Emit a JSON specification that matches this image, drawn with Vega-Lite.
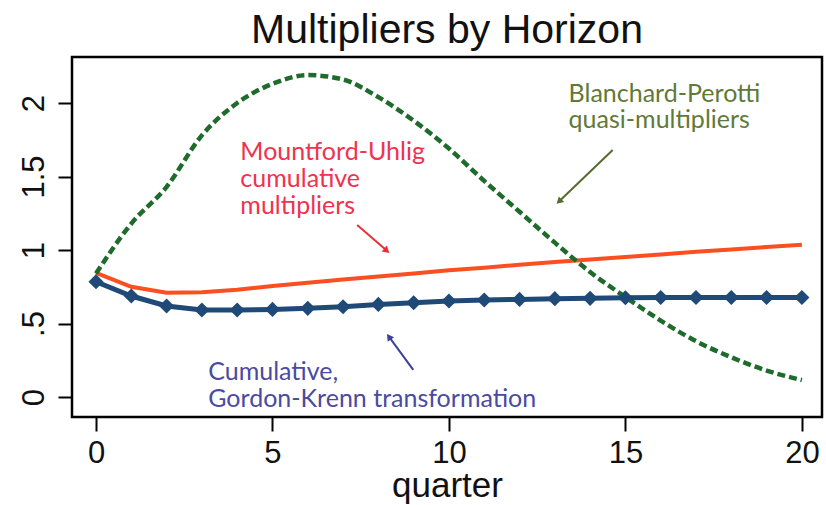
{
  "$schema": "https://vega.github.io/schema/vega-lite/v6.json",
  "width": 750,
  "height": 360,
  "autosize": {"type": "none"},
  "padding": {"left": 72, "top": 57, "right": 4, "bottom": 88},
  "background": "white",
  "config": {
    "view": {"stroke": "black", "strokeWidth": 2.5},
    "font": "Liberation Sans"
  },
  "title": {
    "text": "Multipliers by Horizon",
    "font": "Liberation Sans",
    "fontSize": 41,
    "fontWeight": "normal",
    "color": "#111111",
    "anchor": "middle",
    "offset": 5
  },
  "datasets": {
    "series": [
      {"q": 0, "s": "MU", "v": 0.845}, {"q": 1, "s": "MU", "v": 0.75}, {"q": 2, "s": "MU", "v": 0.71}, {"q": 3, "s": "MU", "v": 0.712}, {"q": 4, "s": "MU", "v": 0.73}, {"q": 5, "s": "MU", "v": 0.755}, {"q": 6, "s": "MU", "v": 0.778}, {"q": 7, "s": "MU", "v": 0.80}, {"q": 8, "s": "MU", "v": 0.82}, {"q": 9, "s": "MU", "v": 0.84}, {"q": 10, "s": "MU", "v": 0.862}, {"q": 11, "s": "MU", "v": 0.88}, {"q": 12, "s": "MU", "v": 0.90}, {"q": 13, "s": "MU", "v": 0.918}, {"q": 14, "s": "MU", "v": 0.935}, {"q": 15, "s": "MU", "v": 0.953}, {"q": 16, "s": "MU", "v": 0.97}, {"q": 17, "s": "MU", "v": 0.988}, {"q": 18, "s": "MU", "v": 1.004}, {"q": 19, "s": "MU", "v": 1.02}, {"q": 20, "s": "MU", "v": 1.035},
      {"q": 0, "s": "BP", "v": 0.84}, {"q": 1, "s": "BP", "v": 1.18}, {"q": 2, "s": "BP", "v": 1.43}, {"q": 3, "s": "BP", "v": 1.78}, {"q": 4, "s": "BP", "v": 2.0}, {"q": 5, "s": "BP", "v": 2.13}, {"q": 6, "s": "BP", "v": 2.19}, {"q": 7, "s": "BP", "v": 2.16}, {"q": 8, "s": "BP", "v": 2.04}, {"q": 9, "s": "BP", "v": 1.88}, {"q": 10, "s": "BP", "v": 1.69}, {"q": 11, "s": "BP", "v": 1.47}, {"q": 12, "s": "BP", "v": 1.26}, {"q": 13, "s": "BP", "v": 1.05}, {"q": 14, "s": "BP", "v": 0.85}, {"q": 15, "s": "BP", "v": 0.68}, {"q": 16, "s": "BP", "v": 0.52}, {"q": 17, "s": "BP", "v": 0.38}, {"q": 18, "s": "BP", "v": 0.27}, {"q": 19, "s": "BP", "v": 0.18}, {"q": 20, "s": "BP", "v": 0.115},
      {"q": 0, "s": "GK", "v": 0.784}, {"q": 1, "s": "GK", "v": 0.687}, {"q": 2, "s": "GK", "v": 0.619}, {"q": 3, "s": "GK", "v": 0.592}, {"q": 4, "s": "GK", "v": 0.592}, {"q": 5, "s": "GK", "v": 0.596}, {"q": 6, "s": "GK", "v": 0.603}, {"q": 7, "s": "GK", "v": 0.614}, {"q": 8, "s": "GK", "v": 0.630}, {"q": 9, "s": "GK", "v": 0.641}, {"q": 10, "s": "GK", "v": 0.653}, {"q": 11, "s": "GK", "v": 0.660}, {"q": 12, "s": "GK", "v": 0.664}, {"q": 13, "s": "GK", "v": 0.669}, {"q": 14, "s": "GK", "v": 0.671}, {"q": 15, "s": "GK", "v": 0.675}, {"q": 16, "s": "GK", "v": 0.677}, {"q": 17, "s": "GK", "v": 0.677}, {"q": 18, "s": "GK", "v": 0.677}, {"q": 19, "s": "GK", "v": 0.677}, {"q": 20, "s": "GK", "v": 0.677}
    ],
    "notes": [
      {"who": "MU", "q": 4.09, "v": 1.612, "label": ["Mountford-Uhlig", "cumulative", "multipliers"]},
      {"who": "BP", "q": 13.39, "v": 2.007, "label": ["Blanchard-Perotti", "quasi-multipliers"]},
      {"who": "GK", "q": 3.18, "v": 0.116, "label": ["Cumulative,", "Gordon-Krenn transformation"]}
    ],
    "arrows": [
      {"who": "MU", "q": 7.40, "v": 1.170, "q2": 8.22, "v2": 1.0},
      {"who": "BP", "q": 14.64, "v": 1.680, "q2": 13.14, "v2": 1.335},
      {"who": "GK", "q": 8.99, "v": 0.184, "q2": 8.33, "v2": 0.40}
    ],
    "heads": [
      {"who": "MU", "q": 8.24, "v": 0.995},
      {"who": "BP", "q": 13.12, "v": 1.33},
      {"who": "GK", "q": 8.30, "v": 0.41}
    ]
  },
  "resolve": {"scale": {"x": "shared", "y": "shared"}},
  "layer": [
    {
      "data": {"name": "series"},
      "transform": [{"filter": "datum.s == 'MU'"}],
      "mark": {"type": "line", "color": "#fb4f22", "strokeWidth": 4},
      "encoding": {
        "x": {
          "field": "q", "type": "quantitative",
          "scale": {"domain": [-0.68, 20.57], "nice": false, "zero": false},
          "axis": {
            "values": [0, 5, 10, 15, 20], "title": "quarter", "grid": false, "domain": false,
            "tickColor": "black", "tickWidth": 2, "tickSize": 14,
            "labelFont": "Liberation Sans", "labelFontSize": 31, "labelColor": "#111111", "labelPadding": 7,
            "titleFont": "Liberation Sans", "titleFontSize": 35, "titleFontWeight": "normal", "titleColor": "#111111", "titlePadding": 0
          }
        },
        "y": {
          "field": "v", "type": "quantitative",
          "scale": {"domain": [-0.136, 2.313], "nice": false, "zero": false},
          "axis": {
            "values": [0, 0.5, 1, 1.5, 2], "title": null, "grid": false, "domain": false,
            "tickColor": "black", "tickWidth": 2, "tickSize": 14, "format": ".1~f",
            "labelFont": "Liberation Sans", "labelFontSize": 31, "labelColor": "#111111",
            "labelAngle": -90, "labelAlign": "center", "labelBaseline": "bottom", "labelPadding": 8,
            "labelExpr": "datum.value == 0.5 ? '.5' : datum.label"
          }
        }
      }
    },
    {
      "data": {"name": "series"},
      "transform": [{"filter": "datum.s == 'BP'"}],
      "mark": {"type": "line", "color": "#1e6b2c", "strokeWidth": 4.5, "strokeDash": [8, 4], "interpolate": "monotone"},
      "encoding": {"x": {"field": "q", "type": "quantitative"}, "y": {"field": "v", "type": "quantitative"}}
    },
    {
      "data": {"name": "series"},
      "transform": [{"filter": "datum.s == 'GK'"}],
      "mark": {"type": "line", "color": "#1f4a78", "strokeWidth": 5},
      "encoding": {"x": {"field": "q", "type": "quantitative"}, "y": {"field": "v", "type": "quantitative"}}
    },
    {
      "data": {"name": "series"},
      "transform": [{"filter": "datum.s == 'GK'"}],
      "mark": {"type": "point", "shape": "diamond", "filled": true, "color": "#1f4a78", "size": 230, "opacity": 1},
      "encoding": {"x": {"field": "q", "type": "quantitative"}, "y": {"field": "v", "type": "quantitative"}}
    },
    {
      "data": {"name": "notes"},
      "transform": [{"filter": "datum.who == 'MU'"}],
      "mark": {"type": "text", "font": "Lato", "fontSize": 25, "color": "#f0324e", "align": "left", "baseline": "alphabetic", "lineHeight": 27},
      "encoding": {"x": {"field": "q", "type": "quantitative"}, "y": {"field": "v", "type": "quantitative"}, "text": {"field": "label"}}
    },
    {
      "data": {"name": "notes"},
      "transform": [{"filter": "datum.who == 'BP'"}],
      "mark": {"type": "text", "font": "Lato", "fontSize": 25, "color": "#5f7a38", "align": "left", "baseline": "alphabetic", "lineHeight": 26},
      "encoding": {"x": {"field": "q", "type": "quantitative"}, "y": {"field": "v", "type": "quantitative"}, "text": {"field": "label"}}
    },
    {
      "data": {"name": "notes"},
      "transform": [{"filter": "datum.who == 'GK'"}],
      "mark": {"type": "text", "font": "Lato", "fontSize": 25, "color": "#4a4aa2", "align": "left", "baseline": "alphabetic", "lineHeight": 27},
      "encoding": {"x": {"field": "q", "type": "quantitative"}, "y": {"field": "v", "type": "quantitative"}, "text": {"field": "label"}}
    },
    {
      "data": {"name": "arrows"},
      "transform": [{"filter": "datum.who == 'MU'"}],
      "mark": {"type": "rule", "color": "#e8303a", "strokeWidth": 2},
      "encoding": {"x": {"field": "q", "type": "quantitative"}, "y": {"field": "v", "type": "quantitative"}, "x2": {"field": "q2"}, "y2": {"field": "v2"}}
    },
    {
      "data": {"name": "arrows"},
      "transform": [{"filter": "datum.who == 'BP'"}],
      "mark": {"type": "rule", "color": "#556b2f", "strokeWidth": 2},
      "encoding": {"x": {"field": "q", "type": "quantitative"}, "y": {"field": "v", "type": "quantitative"}, "x2": {"field": "q2"}, "y2": {"field": "v2"}}
    },
    {
      "data": {"name": "arrows"},
      "transform": [{"filter": "datum.who == 'GK'"}],
      "mark": {"type": "rule", "color": "#3f3f96", "strokeWidth": 2},
      "encoding": {"x": {"field": "q", "type": "quantitative"}, "y": {"field": "v", "type": "quantitative"}, "x2": {"field": "q2"}, "y2": {"field": "v2"}}
    },
    {
      "data": {"name": "heads"},
      "transform": [{"filter": "datum.who == 'MU'"}],
      "mark": {"type": "point", "shape": "triangle-up", "filled": true, "color": "#e8303a", "size": 60, "angle": 131, "opacity": 1},
      "encoding": {"x": {"field": "q", "type": "quantitative"}, "y": {"field": "v", "type": "quantitative"}}
    },
    {
      "data": {"name": "heads"},
      "transform": [{"filter": "datum.who == 'BP'"}],
      "mark": {"type": "point", "shape": "triangle-up", "filled": true, "color": "#556b2f", "size": 60, "angle": 226, "opacity": 1},
      "encoding": {"x": {"field": "q", "type": "quantitative"}, "y": {"field": "v", "type": "quantitative"}}
    },
    {
      "data": {"name": "heads"},
      "transform": [{"filter": "datum.who == 'GK'"}],
      "mark": {"type": "point", "shape": "triangle-up", "filled": true, "color": "#3f3f96", "size": 60, "angle": 324.5, "opacity": 1},
      "encoding": {"x": {"field": "q", "type": "quantitative"}, "y": {"field": "v", "type": "quantitative"}}
    }
  ]
}
